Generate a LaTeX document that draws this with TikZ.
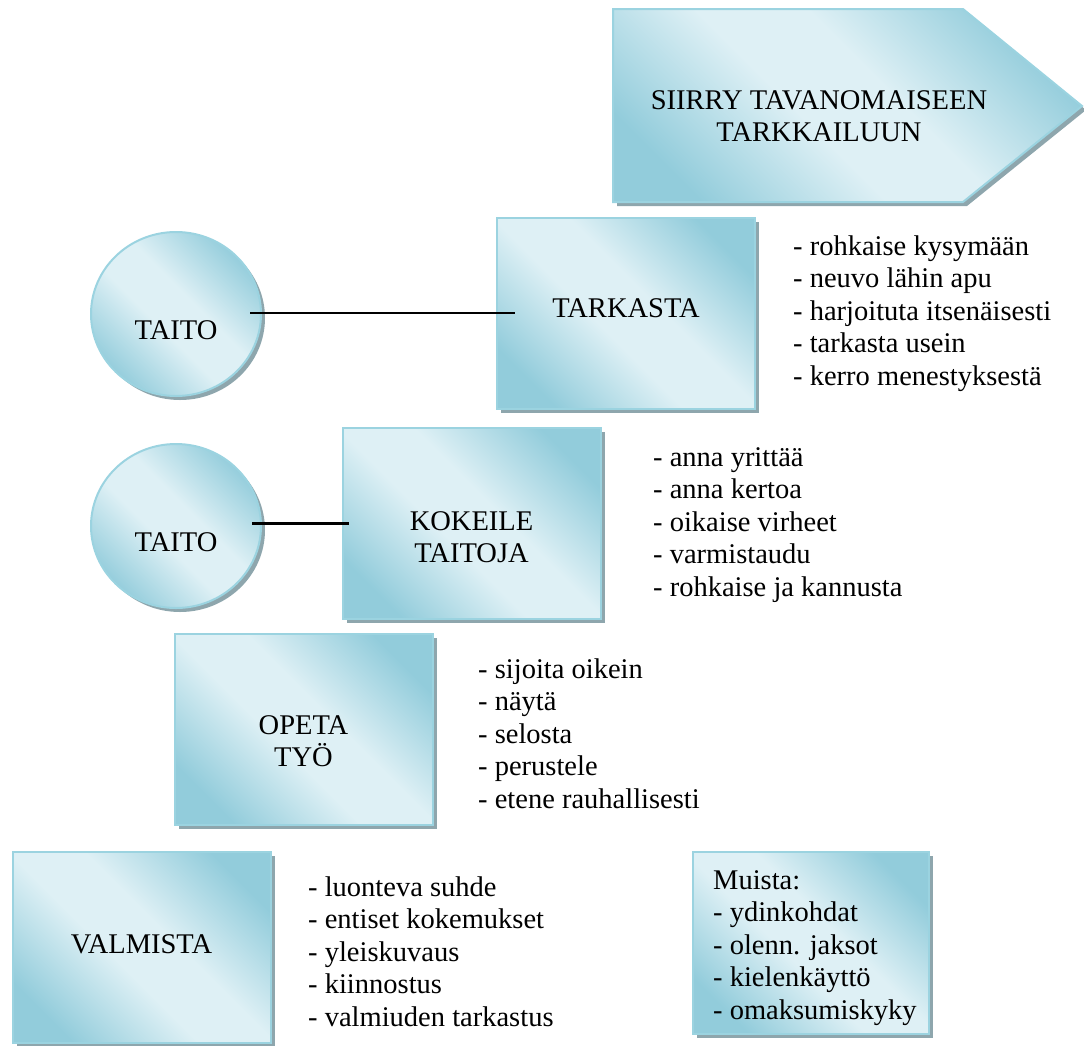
\documentclass[tikz,border=0pt]{standalone}
\usepackage{fontspec}
\setmainfont{Liberation Serif}
\newfontfamily\bodyserif{Liberation Serif}
\usetikzlibrary{shadows,shapes.geometric}
\definecolor{tealdark}{HTML}{92CCDB}
\definecolor{teallight}{HTML}{DEF0F5}
\definecolor{edgeblue}{HTML}{9BD3E0}
\definecolor{shadowgray}{HTML}{8EA6AD}
% light band along one diagonal, darker toward the two other corners
\pgfdeclarehorizontalshading{glass}{100bp}{color(0bp)=(tealdark); color(24bp)=(tealdark); color(44bp)=(teallight); color(56bp)=(teallight); color(76bp)=(tealdark); color(100bp)=(tealdark)}
\begin{document}
\begin{tikzpicture}[x=1pt,y=-1pt,
  panel/.style={draw=edgeblue, line width=2pt, line join=miter,
    shading=glass, shading angle=45,
    drop shadow={shadow xshift=4pt, shadow yshift=-4pt, fill=shadowgray, opacity=1}},
  card/.style={panel, rectangle, inner sep=0pt, minimum width=258pt, minimum height=191pt},
  disc/.style={panel, ellipse, inner sep=0pt, minimum width=170pt, minimum height=164pt},
  caption/.style={font=\bodyserif\fontsize{28.5pt}{32.5pt}\selectfont, align=center, inner sep=0pt},
  notes/.style={font=\bodyserif\fontsize{28.5pt}{32.5pt}\selectfont, align=left, anchor=north west, inner sep=0pt},
  link/.style={draw=black, line width=2.6pt}
]
\useasboundingbox (0,0) rectangle (1084,1045);

% final step: pentagon arrow
\path[panel] (613,9) -- (963,9) -- (1082,106) -- (963,202) -- (613,202) -- cycle;
\node[caption] (goal) at (819,116) {SIIRRY TAVANOMAISEEN\\TARKKAILUUN};

% step boxes
\node[card] (tark) at (626,313) {};
\node[caption] (tarkt) at (626,308) {TARKASTA};
\node[card] (kok) at (471.5,523.5) {};
\node[caption] (kokt) at (471.5,537) {KOKEILE\\TAITOJA};
\node[card] (opeta) at (303.5,729) {};
\node[caption] (opetat) at (303.5,741) {OPETA\\TYÖ};
\node[card] (valm) at (141.5,947) {};
\node[caption] (valmt) at (141.5,944) {VALMISTA};

% skill discs
\node[disc] (c1) at (176,314) {};
\node[caption] (c1t) at (176,330) {TAITO};
\node[disc] (c2) at (176,526) {};
\node[caption] (c2t) at (176,542) {TAITO};

% connectors
\draw[link] ([xshift=-12pt]c1.east |- tark.west) -- ([xshift=19pt]tark.west);
\draw[link] ([xshift=-10pt]c2.east |- kok.west) -- ([xshift=7pt]kok.west);

% reminder box
\node[panel, rectangle, inner sep=0pt, minimum width=236pt, minimum height=182pt] (muista) at (811,943) {};
\node[notes] (muistat) at (713,866.25) {\strut Muista:\\- ydinkohdat\\- olenn. jaksot\\- kielenkäyttö\\- omaksumiskyky};

% step notes
\node[notes] (n1) at (793,232.5) {\strut - rohkaise kysymään\\- neuvo lähin apu\\- harjoituta itsenäisesti\\- tarkasta usein\\- kerro menestyksestä};
\node[notes] (n2) at (653,443.25) {\strut - anna yrittää\\- anna kertoa\\- oikaise virheet\\- varmistaudu\\- rohkaise ja kannusta};
\node[notes] (n3) at (478,655.25) {\strut - sijoita oikein\\- näytä\\- selosta\\- perustele\\- etene rauhallisesti};
\node[notes] (n4) at (308,873.25) {\strut - luonteva suhde\\- entiset kokemukset\\- yleiskuvaus\\- kiinnostus\\- valmiuden tarkastus};
\end{tikzpicture}
\end{document}
